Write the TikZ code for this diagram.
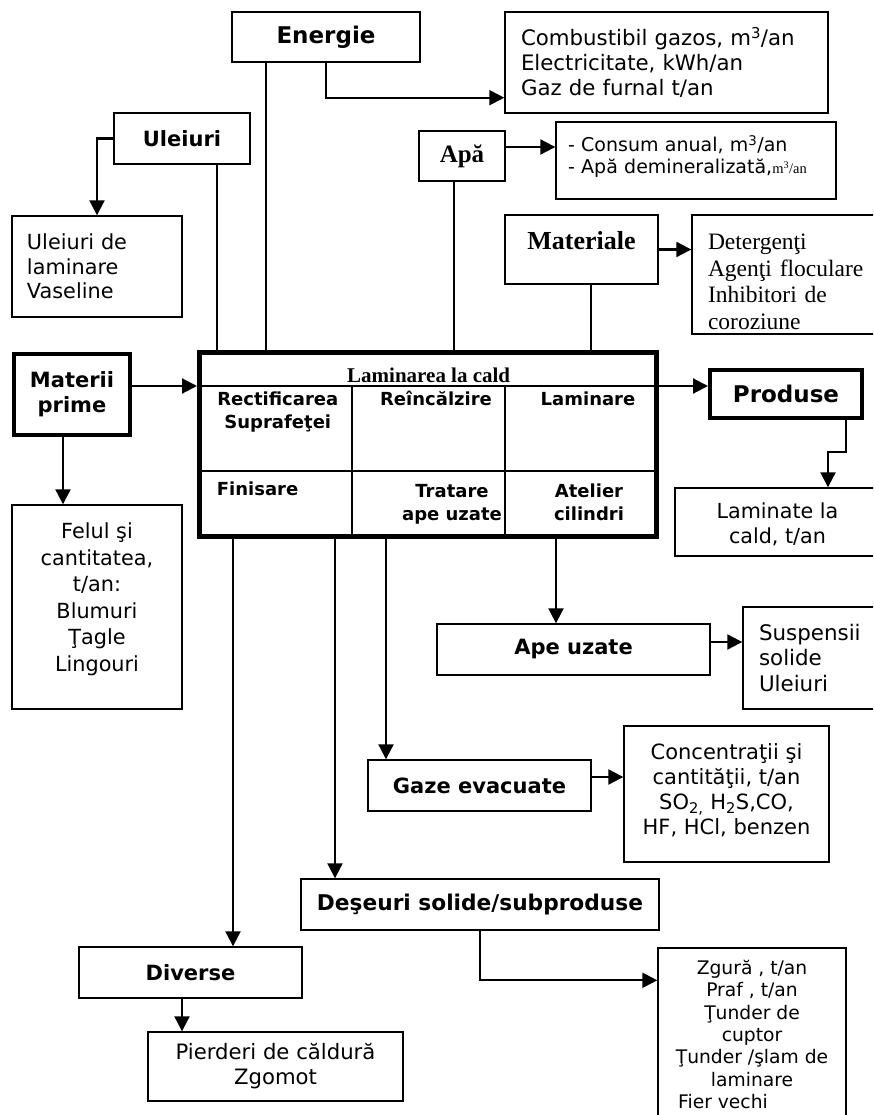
\documentclass[tikz,border=0pt]{standalone}
\usepackage{fontspec}
\setmainfont{DejaVu Sans}
\newfontfamily\tnr{Liberation Serif}
\usetikzlibrary{arrows.meta}
\newcommand\fsz[2]{\fontsize{#1}{#2}\selectfont}
\newcommand\dn[1]{\rule[-#1pt]{0pt}{#1pt}}
\newcommand\up[1]{\rule{0pt}{#1pt}}

\begin{document}
\begin{tikzpicture}[x=1pt, y=-1pt, >={Triangle[length=15pt,width=15pt]},
  wh/.style 2 args={minimum width=#1pt, minimum height=#2pt},
  box/.style={draw, line width=1.4pt, inner sep=0pt, font=\fsz{21}{25}},
  hbox/.style={box, font=\bfseries\fsz{21}{25}},
  heavy/.style={line width=4pt},
  link/.style={line width=2.1pt},
  cell/.style={font=\bfseries\fsz{18}{23}, align=center, inner sep=0pt}]
  \path[use as bounding box, clip] (0,0) rectangle (873,1115);

  % inputs
  \node[hbox, wh={188}{50}, font=\bfseries\fsz{23}{27}] (energie) at (326,37) {Energie};
  \node[box, wh={323}{101}, text width=291pt, align=left, inner xsep=16pt, font=\fsz{21.3}{25}] (enout) at (666.5,62.5)
    {Combustibil gazos, m\textsuperscript{3}/an\\Electricitate, kWh/an\\Gaz de furnal t/an};
  \node[hbox, wh={136}{51}] (uleiuri) at (182,138.5) {Uleiuri};
  \node[box, wh={170}{101}, text width=140pt, align=left, inner xsep=15pt, font=\fsz{20.8}{24.5}] (ulout) at (97,266.5)
    {Uleiuri de\\laminare\\Vaseline};
  \node[box, wh={86}{50}, font=\tnr\bfseries\fsz{25}{28}] (apa) at (462,156) {Apă};
  \node[box, wh={280}{77}, text width=256pt, align=left, inner xsep=12pt, font=\fsz{19}{22}] (apaout) at (696,160.5)
    {- Consum anual, m\textsuperscript{3}/an\\- Apă demineralizată,{\tnr\fsz{14.5}{16}m\textsuperscript{3}/an}\dn{12}};
  \node[box, wh={153}{69}, font=\tnr\bfseries\fsz{26}{30}] (materiale) at (581.5,249.5) {Materiale\dn{18}};
  \node[box, wh={208}{119}, text width=176pt, align=left, inner xsep=16pt, font=\tnr\fsz{23.5}{26.7}] (matout) at (796,274.5)
    {\up{30}Detergenţi\\Agenţi floculare\\Inhibitori de\\coroziune};
  \node[hbox, heavy, wh={116}{81}, align=center] (materii) at (72,394.5) {Materii\\prime};
  \node[box, wh={170}{204}, align=center, font=\fsz{20.8}{26.5}] (felul) at (97,607)
    {\up{22}Felul şi\\cantitatea,\\t/an:\\Blumuri\\Ţagle\\Lingouri\dn{26}};

  % process
  \node[draw, line width=5pt, wh={457}{184}] (main) at (428,444.5) {};
  \draw[line width=1.4pt] ([yshift=-36]main.north west) -- ([yshift=-36]main.north east);
  \draw[line width=1.4pt] ([yshift=-121]main.north west) -- ([yshift=-121]main.north east);
  \draw[line width=1.4pt] ([xshift=155,yshift=-36]main.north west) -- ([xshift=155]main.south west);
  \draw[line width=1.4pt] ([xshift=308,yshift=-36]main.north west) -- ([xshift=308]main.south west);
  \node[anchor=base, inner sep=0pt, font=\tnr\bfseries\fsz{21}{24}] (titlu) at (428.7,382) {Laminarea la cald};
  \node[cell, anchor=base] (c1) at (277.8,428) {Rectificarea\\Suprafeţei};
  \node[cell, anchor=base] (c2) at (436,405) {Reîncălzire};
  \node[cell, anchor=base] (c3) at (588,405) {Laminare};
  \node[cell, anchor=base west] (c4) at (216.7,495.7) {Finisare};
  \node[cell, anchor=base] (c5) at (452,520) {Tratare\\ape uzate};
  \node[cell, anchor=base] (c6) at (589,520) {Atelier\\cilindri};

  % outputs
  \node[hbox, heavy, wh={152}{48}, font=\bfseries\fsz{23}{27}] (produse) at (786,394) {Produse};
  \node[box, wh={205}{68}, align=center, font=\fsz{20.7}{25}] (laminate) at (777.5,522) {\up{20}Laminate la\\cald, t/an};
  \node[hbox, wh={273}{51}] (apeuz) at (573.5,649.5) {Ape uzate};
  \node[box, wh={147}{102}, text width=115pt, align=left, inner xsep=16pt, font=\fsz{21.4}{25.5}] (susp) at (816.5,658)
    {Suspensii\\solide\\Uleiuri};
  \node[hbox, wh={223}{51}] (gaze) at (479.5,785.5) {Gaze evacuate};
  \node[box, wh={205}{136}, align=center] (conc) at (726.5,794)
    {Concentraţii şi\\cantităţii, t/an\\SO\textsubscript{2,}~H\textsubscript{2}S,CO,\\HF, HCl, benzen\dn{10}};
  \node[hbox, wh={358}{51}, font=\bfseries\fsz{21.7}{25}] (deseuri) at (480,904.5) {Deşeuri solide/subproduse};
  \node[box, wh={188}{173}, align=center, font=\fsz{18.7}{22.3}] (zgura) at (752,1034.5)
    {Zgură , t/an\\Praf , t/an\\Ţunder de\\cuptor\\Ţunder /şlam de\\laminare\\Fier vechi\hspace*{58pt}};
  \node[hbox, wh={223}{51}] (diverse) at (190.5,972.5) {Diverse};
  \node[box, wh={255}{69}, align=center, font=\fsz{21.2}{25}] (pierderi) at (275.5,1066.5)
    {Pierderi de căldură\\Zgomot};

  % connectors
  \draw[link] ([xshift=35]energie.south west) coordinate (e1) -- (e1 |- main.north);
  \draw[->, link] (energie.south) |- ([yshift=16]enout.south west);
  \draw[->, link] (uleiuri.west) -| (ulout.north);
  \draw[link] ([xshift=-34]uleiuri.south east) coordinate (u1) -- (u1 |- main.north);
  \draw[->, link] ([yshift=9]apa.east) coordinate (a1) -- (a1 -| apaout.west);
  \draw[link] ([xshift=-8]apa.south) coordinate (a2) -- (a2 |- main.north);
  \draw[->, link] (materiale.east) -- (materiale.east -| matout.west);
  \draw[link] ([xshift=9.5]materiale.south) coordinate (m2) -- (m2 |- main.north);
  \draw[->, link] ([yshift=8.5]materii.east) coordinate (m0) -- (m0 -| main.west);
  \draw[->, link] ([xshift=-9]materii.south) coordinate (m1) -- (m1 |- felul.north);
  \draw[->, link] ([yshift=-36]main.north east) coordinate (p0) -- (p0 -| produse.west);
  \draw[->, link] ([xshift=-18]produse.south east) -- ++(0,32) -| ([xshift=50.5]laminate.north);
  \draw[->, link] ([xshift=359]main.south west) coordinate (w1) -- (w1 |- apeuz.north);
  \draw[->, link] ([yshift=7.5]apeuz.east) coordinate (w2) -- (w2 -| susp.west);
  \draw[->, link] ([xshift=189]main.south west) coordinate (g1) -- (g1 |- gaze.north);
  \draw[->, link] ([yshift=8.5]gaze.east) coordinate (g2) -- (g2 -| conc.west);
  \draw[->, link] ([xshift=138]main.south west) coordinate (d1) -- (d1 |- deseuri.north);
  \draw[->, link] (deseuri.south) |- ([yshift=-33]zgura.north west);
  \draw[->, link] ([xshift=36]main.south west) coordinate (v1) -- (v1 |- diverse.north);
  \draw[->, link] ([xshift=-8.5]diverse.south) coordinate (v2) -- (v2 |- pierderi.north);
\end{tikzpicture}
\end{document}
